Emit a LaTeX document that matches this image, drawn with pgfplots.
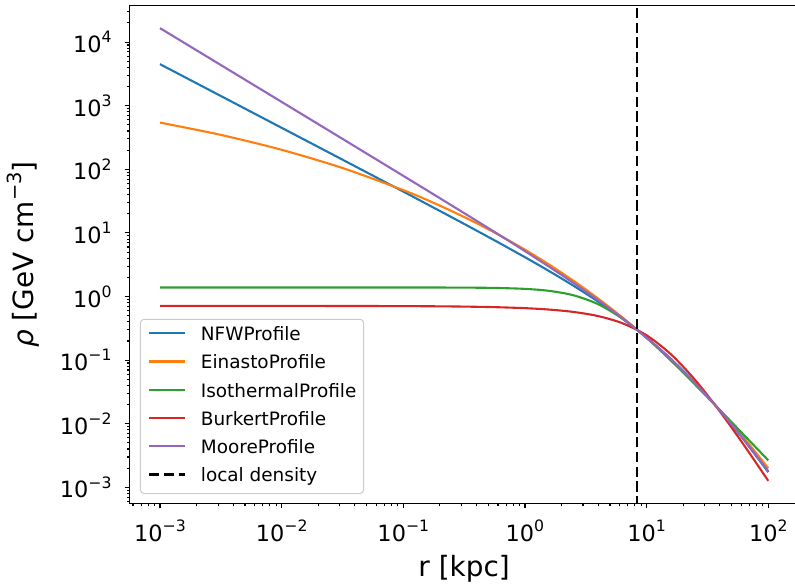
\documentclass[border=0pt]{standalone}
\usepackage{fontspec}
\setmainfont{DejaVu Sans}
\usepackage{pgfplots}
\pgfplotsset{compat=1.18}
\usetikzlibrary{calc}
\definecolor{c0}{HTML}{1F77B4}
\definecolor{c1}{HTML}{FF7F0E}
\definecolor{c2}{HTML}{2CA02C}
\definecolor{c3}{HTML}{D62728}
\definecolor{c4}{HTML}{9467BD}
% power-of-ten tick label, matplotlib style
\newcommand{\tl}[1]{10\raisebox{0.44em}{\fontsize{15.75}{16}\selectfont #1}}

\begin{document}
\begin{tikzpicture}
\begin{loglogaxis}[
  name=ax,
  scale only axis,
  width=669.1bp, height=498bp,
  xmin=5.6234e-4, xmax=177.83,
  ymin=5.572e-4, ymax=37584,
  axis line style={line width=1.1bp, black},
  tick style={line width=1.1bp, black},
  tick align=outside,
  tick pos=left,
  major tick length=4.9bp,
  minor tick length=2.8bp,
  xtick={1e-3,1e-2,1e-1,1,10,100},
  xticklabels={\tl{−3},\tl{−2},\tl{−1},\tl{0},\tl{1},\tl{2}},
  ytick={1e-3,1e-2,1e-1,1,10,100,1e3,1e4},
  yticklabels={\tl{−3},\tl{−2},\tl{−1},\tl{0},\tl{1},\tl{2},\tl{3},\tl{4}},
  minor xtick={6e-4,7e-4,8e-4,9e-4,
    2e-3,3e-3,4e-3,5e-3,6e-3,7e-3,8e-3,9e-3,
    2e-2,3e-2,4e-2,5e-2,6e-2,7e-2,8e-2,9e-2,
    0.2,0.3,0.4,0.5,0.6,0.7,0.8,0.9,
    2,3,4,5,6,7,8,9,
    20,30,40,50,60,70,80,90},
  minor ytick={6e-4,7e-4,8e-4,9e-4,
    2e-3,3e-3,4e-3,5e-3,6e-3,7e-3,8e-3,9e-3,
    2e-2,3e-2,4e-2,5e-2,6e-2,7e-2,8e-2,9e-2,
    0.2,0.3,0.4,0.5,0.6,0.7,0.8,0.9,
    2,3,4,5,6,7,8,9,
    20,30,40,50,60,70,80,90,
    200,300,400,500,600,700,800,900,
    2e3,3e3,4e3,5e3,6e3,7e3,8e3,9e3,
    2e4,3e4},
  tick label style={font=\fontsize{22.5}{27}\selectfont},
  xticklabel style={anchor=base, inner sep=0pt, yshift=-33.2bp},
  yticklabel style={anchor=east, inner sep=0pt, xshift=-13bp},
  xlabel={r [kpc]},
  xlabel style={at={(axis description cs:0.5,-0.1466)}, anchor=base,
    font=\fontsize{28}{33}\selectfont},
  ylabel={\textit{ρ} [GeV cm\raisebox{0.44em}{\fontsize{19.6}{20}\selectfont −3}]},
  ylabel style={at={(axis description cs:-0.1439,0.5)}, anchor=base,
    font=\fontsize{28}{33}\selectfont},
  legend style={at={(0,0)}, anchor=south west, xshift=10.4bp, yshift=9.5bp,
    draw=black!20, line width=1bp, rounded corners=3.6bp, fill=white,
    inner sep=7.2bp, font=\fontsize{18.5}{22}\selectfont, row sep=10bp,
    nodes={inner sep=0pt, text height=13.9bp, text depth=4.4bp, anchor=base west},
    /tikz/every odd column/.append style={column sep=14.4bp}},
  legend image code/.code={\draw[#1] (0bp,7.2bp) -- (36bp,7.2bp);},
  every axis plot/.append style={line width=2.1bp, line join=round},
]
\addplot[c0, smooth] coordinates {
  (0.001,4493) (0.0031623,1420.6) (0.01,448.8) (0.031623,141.76) (0.1,44.57)
  (0.17783,24.90) (0.31623,13.85) (0.56234,7.634) (1,4.147) (1.5849,2.500)
  (2.5119,1.471) (3.9811,0.8344) (6.3096,0.4497) (10,0.2262) (15.849,0.1043)
  (25.119,0.04346) (39.811,0.01632) (63.096,0.005545) (100,0.001731)};
\addlegendentry{NFWProfile}
\addplot[c1, smooth] coordinates {
  (0.001,542.1) (0.0031623,347.4) (0.01,202.3) (0.031623,104.76) (0.1,47.05)
  (0.17783,29.62) (0.31623,17.78) (0.56234,10.127) (1,5.443) (1.5849,3.165)
  (2.5119,1.761) (3.9811,0.9338) (6.3096,0.4703) (10,0.2240) (15.849,0.10045)
  (25.119,0.04218) (39.811,0.01651) (63.096,0.005990) (100,0.001999)};
\addlegendentry{EinastoProfile}
\addplot[c2, smooth] coordinates {
  (0.001,1.3870) (0.0031623,1.3870) (0.01,1.3870) (0.031623,1.3869) (0.1,1.3863)
  (0.17783,1.3847) (0.31623,1.3798) (0.56234,1.3645) (1,1.3183) (1.5849,1.2264)
  (2.5119,1.0437) (3.9811,0.7595) (6.3096,0.4510) (10,0.2233) (15.849,0.09841)
  (25.119,0.04093) (39.811,0.01659) (63.096,0.006652) (100,0.002656)};
\addlegendentry{IsothermalProfile}
\addplot[c3, smooth] coordinates {
  (0.001,0.71194) (0.0031623,0.71182) (0.01,0.71144) (0.031623,0.71022) (0.1,0.70638)
  (0.17783,0.70201) (0.31623,0.69423) (0.56234,0.68040) (1,0.65583) (1.5849,0.62309)
  (2.5119,0.57173) (3.9811,0.49309) (6.3096,0.38085) (10,0.24519) (15.849,0.12333)
  (25.119,0.048417) (39.811,0.015809) (63.096,0.0046149) (100,0.0012650)};
\addlegendentry{BurkertProfile}
\addplot[c4, smooth] coordinates {
  (0.001,16564) (0.0031623,4357) (0.01,1145.7) (0.031623,301.0) (0.1,78.81)
  (0.17783,40.24) (0.31623,20.47) (0.56234,10.343) (1,5.169) (1.5849,2.928)
  (2.5119,1.6277) (3.9811,0.8804) (6.3096,0.4571) (10,0.2245) (15.849,0.10255)
  (25.119,0.04291) (39.811,0.01632) (63.096,0.005642) (100,0.001792)};
\addlegendentry{MooreProfile}
\addplot[black, line width=2.8bp, dash pattern=on 10.3bp off 4.5bp] coordinates {
  (8.33,1e-4) (8.33,1e5)};
\addlegendentry{local density}
\end{loglogaxis}
\pgfresetboundingbox
\path ($(ax.south west)+(-129.6bp,-82.5bp)$) rectangle ($(ax.north west)+(665.4bp,5.5bp)$);
\end{tikzpicture}
\end{document}
